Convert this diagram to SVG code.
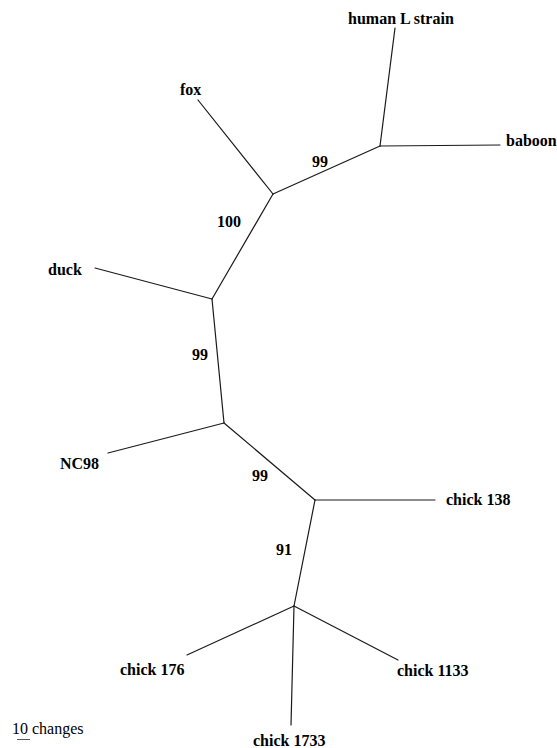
<svg xmlns="http://www.w3.org/2000/svg" width="557" height="748" viewBox="0 0 557 748">
<style>
.e{stroke:#1a1a1a;stroke-width:1.2;fill:none;stroke-linecap:round}
.t{font-family:"Liberation Serif","Times New Roman",serif;font-size:16px;font-weight:bold;fill:#000}
.s{font-family:"Liberation Serif","Times New Roman",serif;font-size:16px;fill:#000}
</style>
<rect width="557" height="748" fill="#fff"/>
<g id="connectors">
<line class="e" x1="380" y1="146" x2="395" y2="28"/>
<line class="e" x1="380" y1="146" x2="500" y2="145"/>
<line class="e" x1="380" y1="146" x2="273" y2="194"/>
<line class="e" x1="273" y1="194" x2="198" y2="100"/>
<line class="e" x1="273" y1="194" x2="212" y2="299"/>
<line class="e" x1="212" y1="299" x2="95" y2="268"/>
<line class="e" x1="212" y1="299" x2="224" y2="423"/>
<line class="e" x1="224" y1="423" x2="108" y2="453"/>
<line class="e" x1="224" y1="423" x2="315" y2="500"/>
<line class="e" x1="315" y1="500" x2="435" y2="500"/>
<line class="e" x1="315" y1="500" x2="294" y2="606"/>
<line class="e" x1="294" y1="606" x2="187" y2="655"/>
<line class="e" x1="294" y1="606" x2="398" y2="660"/>
<line class="e" x1="294" y1="606" x2="291" y2="725"/>
</g>
<g id="human"><text class="t" x="348" y="24">human L strain</text></g>
<g id="baboon"><text class="t" x="506" y="146">baboon</text></g>
<g id="fox"><text class="t" x="180" y="95">fox</text></g>
<g id="duck"><text class="t" x="48" y="275">duck</text></g>
<g id="nc98"><text class="t" x="60" y="469">NC98</text></g>
<g id="chick138"><text class="t" x="446" y="505">chick 138</text></g>
<g id="chick176"><text class="t" x="120" y="675">chick 176</text></g>
<g id="chick1133"><text class="t" x="397" y="676">chick 1133</text></g>
<g id="chick1733"><text class="t" x="253" y="746">chick 1733</text></g>
<g id="bootstrap">
<text class="t" x="312" y="167">99</text>
<text class="t" x="217" y="227">100</text>
<text class="t" x="192" y="360">99</text>
<text class="t" x="252" y="481">99</text>
<text class="t" x="276" y="555">91</text>
</g>
<g id="scale">
<text class="s" x="12" y="734">10 changes</text>
<line x1="17" y1="739.5" x2="30" y2="739.5" stroke="#555" stroke-width="1"/>
</g>
</svg>
